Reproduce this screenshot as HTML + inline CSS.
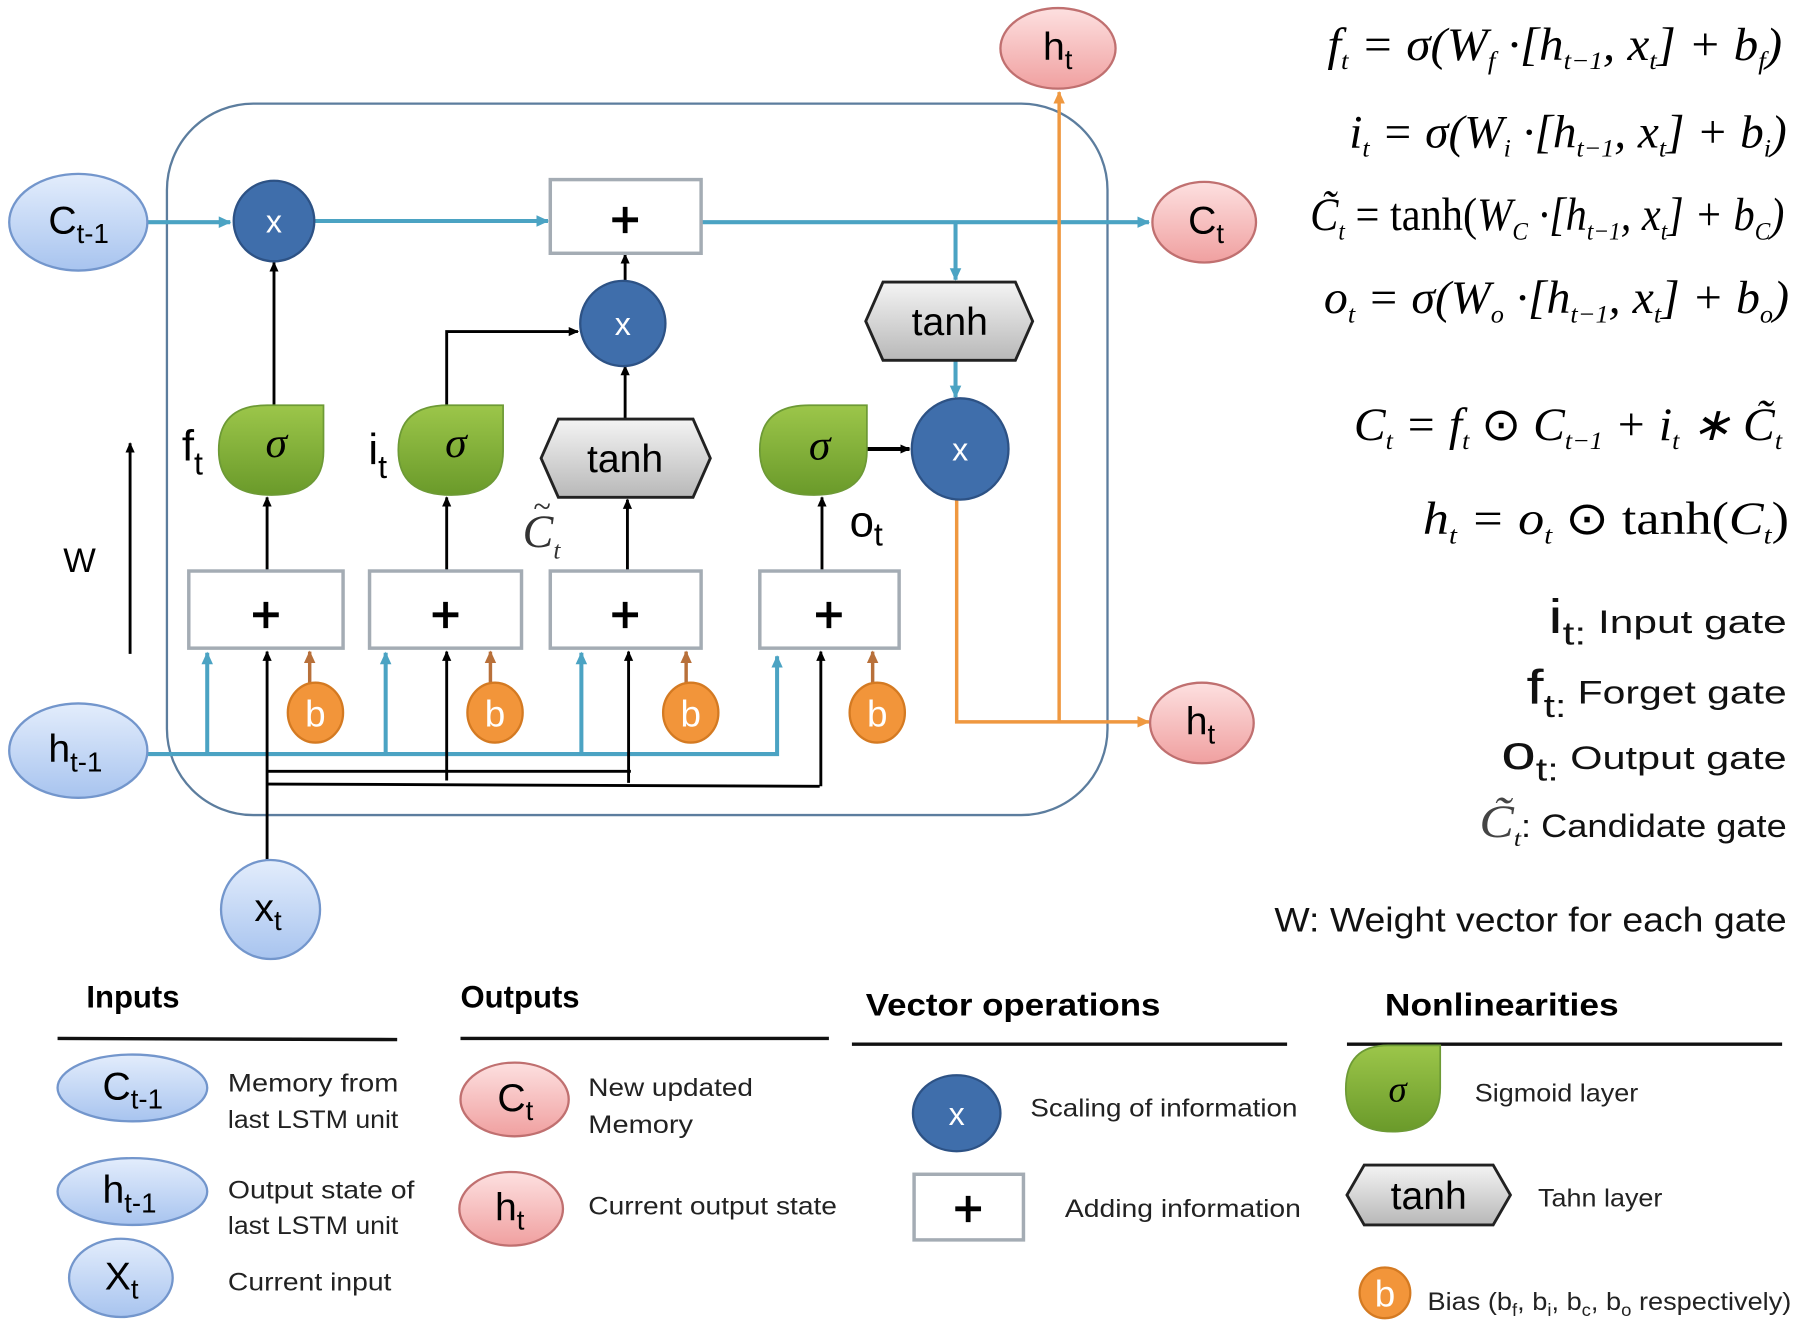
<!DOCTYPE html>
<html><head><meta charset="utf-8">
<style>
html,body{margin:0;padding:0;background:#fff;}
svg{display:block;}
.s{font-family:"Liberation Sans",sans-serif;}
.m{font-family:"Liberation Serif",serif;font-style:italic;}
</style></head>
<body>
<svg width="1804" height="1332" viewBox="0 0 1567 1157" preserveAspectRatio="none" xmlns="http://www.w3.org/2000/svg">
<defs>
<linearGradient id="gb" x1="0" y1="0" x2="0" y2="1"><stop offset="0" stop-color="#e3edfc"/><stop offset="1" stop-color="#a8c4ef"/></linearGradient>
<linearGradient id="gr" x1="0" y1="0" x2="0" y2="1"><stop offset="0" stop-color="#fde0e0"/><stop offset="1" stop-color="#f0a0a0"/></linearGradient>
<linearGradient id="gg" x1="0" y1="0" x2="0" y2="1"><stop offset="0" stop-color="#9cc64a"/><stop offset="1" stop-color="#6a9a2a"/></linearGradient>
<linearGradient id="gy" x1="0" y1="0" x2="0" y2="1"><stop offset="0" stop-color="#f4f4f4"/><stop offset="1" stop-color="#b8b8b8"/></linearGradient>
<marker id="ak" markerWidth="10" markerHeight="10" refX="8" refY="5" orient="auto" markerUnits="userSpaceOnUse"><path d="M0,1 L9,5 L0,9 Z" fill="#000"/></marker>
<marker id="at" markerWidth="12" markerHeight="12" refX="10" refY="6" orient="auto" markerUnits="userSpaceOnUse"><path d="M0,1 L11,6 L0,11 Z" fill="#4ba3c3"/></marker>
<marker id="ab" markerWidth="12" markerHeight="12" refX="10" refY="6" orient="auto" markerUnits="userSpaceOnUse"><path d="M0,1 L11,6 L0,11 Z" fill="#b8703a"/></marker>
<marker id="ao" markerWidth="12" markerHeight="12" refX="10" refY="6" orient="auto" markerUnits="userSpaceOnUse"><path d="M0,1 L11,6 L0,11 Z" fill="#ef9840"/></marker>
</defs>

<rect x="145" y="90" width="817" height="618" rx="75" fill="none" stroke="#5c7d9e" stroke-width="2"/>

<g stroke="#4ba3c3" stroke-width="3.5" fill="none">
<line x1="128" y1="193" x2="200" y2="193" marker-end="url(#at)"/>
<line x1="273" y1="192" x2="476" y2="192" marker-end="url(#at)"/>
<line x1="609" y1="193" x2="998" y2="193" marker-end="url(#at)"/>
<line x1="830" y1="193" x2="830" y2="243" marker-end="url(#at)"/>
<line x1="830" y1="313" x2="830" y2="345" marker-end="url(#at)"/>
<polyline points="128,655 675,655 675,570" marker-end="url(#at)"/>
<line x1="180" y1="655" x2="180" y2="567" marker-end="url(#at)"/>
<line x1="335" y1="655" x2="335" y2="567" marker-end="url(#at)"/>
<line x1="505" y1="655" x2="505" y2="567" marker-end="url(#at)"/>
</g>
<g stroke="#ef9840" stroke-width="3" fill="none">
<polyline points="831,432 831,627 998,627" marker-end="url(#ao)"/>
<line x1="920" y1="627" x2="920" y2="80" marker-end="url(#ao)"/>
</g>
<g stroke="#b8703a" stroke-width="3" fill="none">
<line x1="269" y1="597" x2="269" y2="566" marker-end="url(#ab)"/>
<line x1="426" y1="597" x2="426" y2="566" marker-end="url(#ab)"/>
<line x1="596" y1="597" x2="596" y2="566" marker-end="url(#ab)"/>
<line x1="758" y1="597" x2="758" y2="566" marker-end="url(#ab)"/>
</g>
<g stroke="#000" stroke-width="2.5" fill="none">
<line x1="232" y1="748" x2="232" y2="566" marker-end="url(#ak)"/>
<line x1="232" y1="670" x2="548" y2="670"/>
<line x1="232" y1="681" x2="712" y2="683"/>
<line x1="388" y1="678" x2="388" y2="566" marker-end="url(#ak)"/>
<line x1="546" y1="680" x2="546" y2="566" marker-end="url(#ak)"/>
<line x1="713" y1="683" x2="713" y2="566" marker-end="url(#ak)"/>
<line x1="232" y1="496" x2="232" y2="432" marker-end="url(#ak)"/>
<line x1="388" y1="496" x2="388" y2="432" marker-end="url(#ak)"/>
<line x1="545" y1="496" x2="545" y2="434" marker-end="url(#ak)"/>
<line x1="714" y1="496" x2="714" y2="432" marker-end="url(#ak)"/>
<line x1="238" y1="352" x2="238" y2="228" marker-end="url(#ak)"/>
<polyline points="388,352 388,288 502,288" marker-end="url(#ak)"/>
<line x1="543" y1="364" x2="543" y2="318" marker-end="url(#ak)"/>
<line x1="543" y1="244" x2="543" y2="221" marker-end="url(#ak)"/>
<line x1="752" y1="390" x2="790" y2="390" stroke-width="3.5" marker-end="url(#ak)"/>
<line x1="113" y1="568" x2="113" y2="385" marker-end="url(#ak)"/>
</g>
<text x="55" y="497" class="s" font-size="30">W</text>

<g fill="#fff" stroke="#a4acb4" stroke-width="3">
<rect x="478" y="156" width="131" height="64"/>
<rect x="164" y="496" width="134" height="67"/>
<rect x="321" y="496" width="132" height="67"/>
<rect x="478" y="496" width="131" height="67"/>
<rect x="660" y="496" width="121" height="67"/>
</g>
<g class="s" font-size="44" text-anchor="middle" stroke="#000" stroke-width="1">
<text x="543" y="206">+</text>
<text x="231" y="549">+</text>
<text x="387" y="549">+</text>
<text x="543" y="549">+</text>
<text x="720" y="549">+</text>
</g>

<g fill="#3f6eab" stroke="#2d5285" stroke-width="2">
<circle cx="238" cy="192" r="35"/>
<circle cx="541" cy="281" r="37"/>
<ellipse cx="834" cy="390" rx="42" ry="44"/>
</g>
<g class="s" font-size="28" fill="#fff" text-anchor="middle">
<text x="238" y="202">x</text><text x="541" y="291">x</text><text x="834" y="400">x</text>
</g>

<g fill="url(#gy)" stroke="#222" stroke-width="2.5">
<polygon points="767,245 882,245 897,279 882,313 767,313 752,279"/>
<polygon points="485,364 602,364 617,398 602,432 485,432 470,398"/>
</g>
<g class="s" font-size="34" text-anchor="middle"><text x="825" y="291">tanh</text><text x="543" y="410">tanh</text></g>

<g fill="url(#gg)" stroke="#6d9a35" stroke-width="1.5">
<path d="M232,352 L281,352 L281,392 Q281,430 236,430 Q190,430 190,391 Q190,352 232,352 Z"/>
<path d="M389,352 L437,352 L437,392 Q437,430 392,430 Q346,430 346,391 Q346,352 389,352 Z"/>
<path d="M703,352 L753,352 L753,392 Q753,430 707,430 Q660,430 660,391 Q660,352 703,352 Z"/>
</g>
<g class="m" font-size="38" text-anchor="middle"><text x="240" y="397">σ</text><text x="396" y="397">σ</text><text x="712" y="399">σ</text></g>

<text x="158" y="400" class="s" font-size="38">f<tspan font-size="28" dy="12">t</tspan></text>
<text x="320" y="403" class="s" font-size="38">i<tspan font-size="28" dy="12">t</tspan></text>
<text x="738" y="466" class="s" font-size="38">o<tspan font-size="28" dy="8">t</tspan></text>
<text x="454" y="475" class="m" font-size="40" fill="#333">C<tspan font-size="22" dy="10">t</tspan></text>
<text x="463" y="449" class="m" font-size="28" fill="#333">~</text>

<g fill="#f2953a" stroke="#d47a22" stroke-width="2">
<ellipse cx="274" cy="619" rx="24" ry="26"/>
<ellipse cx="430" cy="619" rx="24" ry="26"/>
<ellipse cx="600" cy="619" rx="24" ry="26"/>
<ellipse cx="762" cy="619" rx="24" ry="26"/>
<circle cx="1203" cy="1123" r="22"/>
</g>
<g class="s" font-size="32" fill="#fff" text-anchor="middle">
<text x="274" y="631">b</text><text x="430" y="631">b</text><text x="600" y="631">b</text><text x="762" y="631">b</text><text x="1203" y="1135">b</text>
</g>

<g fill="url(#gb)" stroke="#7396cc" stroke-width="2">
<ellipse cx="68" cy="193" rx="60" ry="42"/>
<ellipse cx="68" cy="652" rx="60" ry="41"/>
<ellipse cx="235" cy="790" rx="43" ry="43"/>
<ellipse cx="115" cy="945" rx="65" ry="29"/>
<ellipse cx="115" cy="1035" rx="65" ry="29"/>
<ellipse cx="105" cy="1110" rx="45" ry="34"/>
</g>
<g fill="url(#gr)" stroke="#c07070" stroke-width="2">
<ellipse cx="919" cy="42" rx="50" ry="35"/>
<ellipse cx="1046" cy="193" rx="45" ry="35"/>
<ellipse cx="1044" cy="628" rx="45" ry="35"/>
<ellipse cx="447" cy="955" rx="47" ry="32"/>
<ellipse cx="444" cy="1050" rx="45" ry="32"/>
</g>
<g class="s" font-size="34">
<text x="42" y="203">C<tspan font-size="24" dy="8">t-1</tspan></text>
<text x="42" y="662">h<tspan font-size="24" dy="8">t-1</tspan></text>
<text x="221" y="800">x<tspan font-size="24" dy="8">t</tspan></text>
<text x="906" y="52">h<tspan font-size="24" dy="8">t</tspan></text>
<text x="1032" y="203">C<tspan font-size="24" dy="8">t</tspan></text>
<text x="1030" y="638">h<tspan font-size="24" dy="8">t</tspan></text>
<text x="89" y="955">C<tspan font-size="24" dy="8">t-1</tspan></text>
<text x="89" y="1045">h<tspan font-size="24" dy="8">t-1</tspan></text>
<text x="91" y="1120">X<tspan font-size="24" dy="8">t</tspan></text>
<text x="432" y="965">C<tspan font-size="24" dy="8">t</tspan></text>
<text x="430" y="1060">h<tspan font-size="24" dy="8">t</tspan></text>
</g>

<g class="m" font-size="40" text-anchor="end">
<text x="1548" y="52" textLength="395" lengthAdjust="spacingAndGlyphs">f<tspan font-size="22" dy="8">t</tspan><tspan dy="-8"> = σ(W</tspan><tspan font-size="22" dy="8">f</tspan><tspan dy="-8"> ·[h</tspan><tspan font-size="22" dy="8">t−1</tspan><tspan dy="-8">, x</tspan><tspan font-size="22" dy="8">t</tspan><tspan dy="-8">] + b</tspan><tspan font-size="22" dy="8">f</tspan><tspan dy="-8">)</tspan></text>
<text x="1552" y="128" textLength="380" lengthAdjust="spacingAndGlyphs">i<tspan font-size="22" dy="8">t</tspan><tspan dy="-8"> = σ(W</tspan><tspan font-size="22" dy="8">i</tspan><tspan dy="-8"> ·[h</tspan><tspan font-size="22" dy="8">t−1</tspan><tspan dy="-8">, x</tspan><tspan font-size="22" dy="8">t</tspan><tspan dy="-8">] + b</tspan><tspan font-size="22" dy="8">i</tspan><tspan dy="-8">)</tspan></text>
<text x="1550" y="200" textLength="412" lengthAdjust="spacingAndGlyphs">C̃<tspan font-size="22" dy="8">t</tspan><tspan dy="-8" font-style="normal"> = tanh(</tspan><tspan>W</tspan><tspan font-size="22" dy="8">C</tspan><tspan dy="-8"> ·[h</tspan><tspan font-size="22" dy="8">t−1</tspan><tspan dy="-8">, x</tspan><tspan font-size="22" dy="8">t</tspan><tspan dy="-8">] + b</tspan><tspan font-size="22" dy="8">C</tspan><tspan dy="-8">)</tspan></text>
<text x="1554" y="272" textLength="404" lengthAdjust="spacingAndGlyphs">o<tspan font-size="22" dy="8">t</tspan><tspan dy="-8"> = σ(W</tspan><tspan font-size="22" dy="8">o</tspan><tspan dy="-8"> ·[h</tspan><tspan font-size="22" dy="8">t−1</tspan><tspan dy="-8">, x</tspan><tspan font-size="22" dy="8">t</tspan><tspan dy="-8">] + b</tspan><tspan font-size="22" dy="8">o</tspan><tspan dy="-8">)</tspan></text>
<text x="1548" y="382" textLength="372" lengthAdjust="spacingAndGlyphs">C<tspan font-size="22" dy="8">t</tspan><tspan dy="-8"> = f</tspan><tspan font-size="22" dy="8">t</tspan><tspan dy="-8" font-style="normal"> ⊙ </tspan><tspan>C</tspan><tspan font-size="22" dy="8">t−1</tspan><tspan dy="-8"> + i</tspan><tspan font-size="22" dy="8">t</tspan><tspan dy="-8"> ∗ C̃</tspan><tspan font-size="22" dy="8">t</tspan></text>
<text x="1554" y="464" textLength="318" lengthAdjust="spacingAndGlyphs">h<tspan font-size="22" dy="8">t</tspan><tspan dy="-8"> = o</tspan><tspan font-size="22" dy="8">t</tspan><tspan dy="-8" font-style="normal"> ⊙ tanh(</tspan><tspan>C</tspan><tspan font-size="22" dy="8">t</tspan><tspan dy="-8" font-style="normal">)</tspan></text>
</g>

<g class="s" font-size="28" fill="#111">
<text x="1345" y="550" textLength="207" lengthAdjust="spacingAndGlyphs"><tspan font-size="42">i</tspan><tspan font-size="28" dy="10">t:</tspan><tspan dy="-10">   Input gate</tspan></text>
<text x="1326" y="611" textLength="226" lengthAdjust="spacingAndGlyphs"><tspan font-size="42">f</tspan><tspan font-size="28" dy="12">t:</tspan><tspan dy="-12">  Forget gate</tspan></text>
<text x="1304" y="668" textLength="248" lengthAdjust="spacingAndGlyphs"><tspan font-size="42">o</tspan><tspan font-size="28" dy="10">t:</tspan><tspan dy="-10"> Output  gate</tspan></text>
<text x="1285" y="727" textLength="267" lengthAdjust="spacingAndGlyphs"><tspan class="m" font-size="40" fill="#444">C̃</tspan><tspan class="m" font-size="20" dy="8">t</tspan><tspan dy="-8">: Candidate gate</tspan></text>
<text x="1107" y="809" font-size="30" textLength="445" lengthAdjust="spacingAndGlyphs">W:  Weight vector for each gate</text>
</g>

<g class="s" font-size="27" font-weight="bold">
<text x="75" y="875">Inputs</text><text x="400" y="875">Outputs</text>
<text x="752" y="882" textLength="256" lengthAdjust="spacingAndGlyphs">Vector operations</text><text x="1203" y="882" textLength="203" lengthAdjust="spacingAndGlyphs">Nonlinearities</text>
</g>
<g stroke="#111" stroke-width="3">
<line x1="50" y1="902" x2="345" y2="903"/><line x1="400" y1="902" x2="720" y2="902"/>
<line x1="740" y1="907" x2="1118" y2="907"/><line x1="1170" y1="907" x2="1548" y2="907"/>
</g>
<g class="s" font-size="22" fill="#222">
<text x="198" y="948" textLength="148" lengthAdjust="spacingAndGlyphs">Memory from</text>
<text x="198" y="980" textLength="148" lengthAdjust="spacingAndGlyphs">last LSTM unit</text>
<text x="198" y="1041" textLength="162" lengthAdjust="spacingAndGlyphs">Output state of</text>
<text x="198" y="1072" textLength="148" lengthAdjust="spacingAndGlyphs">last LSTM unit</text>
<text x="198" y="1121" textLength="142" lengthAdjust="spacingAndGlyphs">Current input</text>
<text x="511" y="952" textLength="143" lengthAdjust="spacingAndGlyphs">New updated</text>
<text x="511" y="984" textLength="91" lengthAdjust="spacingAndGlyphs">Memory</text>
<text x="511" y="1055" textLength="216" lengthAdjust="spacingAndGlyphs">Current output state</text>
<text x="895" y="970" textLength="232" lengthAdjust="spacingAndGlyphs">Scaling of information</text>
<text x="925" y="1057" textLength="205" lengthAdjust="spacingAndGlyphs">Adding information</text>
<text x="1281" y="957" textLength="142" lengthAdjust="spacingAndGlyphs">Sigmoid layer</text>
<text x="1336" y="1048" textLength="108" lengthAdjust="spacingAndGlyphs">Tahn layer</text>
<text x="1240" y="1138" textLength="316" lengthAdjust="spacingAndGlyphs">Bias (b<tspan font-size="15" dy="5">f</tspan><tspan dy="-5">, b</tspan><tspan font-size="15" dy="5">i</tspan><tspan dy="-5">, b</tspan><tspan font-size="15" dy="5">c</tspan><tspan dy="-5">, b</tspan><tspan font-size="15" dy="5">o</tspan><tspan dy="-5"> respectively)</tspan></text>
</g>
<ellipse cx="831" cy="967" rx="38" ry="33" fill="#3f6eab" stroke="#2d5285" stroke-width="2"/>
<text x="831" y="977" class="s" font-size="28" fill="#fff" text-anchor="middle">x</text>
<rect x="794" y="1020" width="95" height="57" fill="#fff" stroke="#a4acb4" stroke-width="3"/>
<text x="841" y="1065" class="s" font-size="44" text-anchor="middle" stroke="#000" stroke-width="1">+</text>
<path d="M1206,908 L1251,908 L1251,945 Q1251,983 1210,983 Q1169,983 1169,946 Q1169,908 1206,908 Z" fill="url(#gg)" stroke="#6d9a35" stroke-width="1.5"/>
<text x="1214" y="957" class="m" font-size="32" text-anchor="middle">σ</text>
<polygon points="1185,1012 1297,1012 1312,1038 1297,1064 1185,1064 1170,1038" fill="url(#gy)" stroke="#222" stroke-width="2.5"/>
<text x="1241" y="1050" class="s" font-size="34" text-anchor="middle">tanh</text>
</svg>
</body></html>
